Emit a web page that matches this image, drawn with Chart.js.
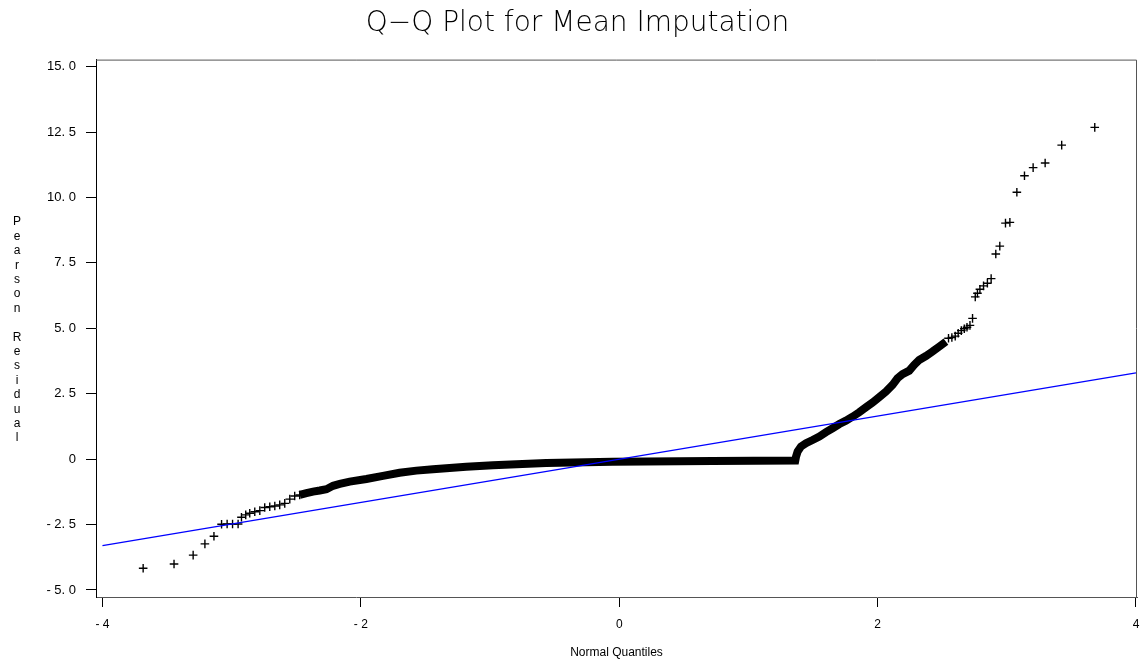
<!DOCTYPE html>
<html lang="en">
<head>
<meta charset="utf-8" />
<title>Q-Q Plot for Mean Imputation</title>
<script src="https://cdn.jsdelivr.net/npm/chart.js"></script>
<style>
  html, body { margin: 0; padding: 0; background: #fff; }
</style>
</head>
<body>
<canvas id="qq" width="1145" height="665"></canvas>
<script>
  // sparse crosses in both tails (normal quantile, pearson residual)
  const tailX = [-3.685, -3.446, -3.298, -3.207, -3.137, -3.078, -3.035, -2.993, -2.950, -2.924, -2.891,
                 -2.860, -2.821, -2.782, -2.744, -2.705, -2.666, -2.628, -2.589, -2.550, -2.512, -2.473,
                 2.549, 2.575, 2.601, 2.624, 2.648, 2.671, 2.692, 2.715, 2.735, 2.756, 2.773, 2.792,
                 2.820, 2.850, 2.879, 2.915, 2.946, 2.990, 3.024, 3.078, 3.137, 3.204, 3.297, 3.425, 3.681];
  const tailY = [-4.17, -4.01, -3.67, -3.24, -2.95, -2.49, -2.48, -2.48, -2.48, -2.22, -2.13,
                 -2.07, -2.01, -1.97, -1.85, -1.82, -1.79, -1.75, -1.69, -1.53, -1.41, -1.37,
                 4.62, 4.65, 4.70, 4.81, 4.91, 4.98, 5.04, 5.11, 5.38, 6.20, 6.34, 6.49,
                 6.62, 6.72, 6.90, 7.84, 8.14, 9.02, 9.05, 10.20, 10.83, 11.14, 11.32, 12.00, 12.68];

  // the dense middle where the crosses merge into a solid band
  const bandX = [-2.473, -2.421, -2.370, -2.318, -2.266, -2.215, -2.163, -2.086, -1.957, -1.829, -1.700,
                 -1.570, -1.442, -1.313, -1.184, -0.978, -0.565, -0.052, 0.721, 1.363, 1.369, 1.381,
                 1.407, 1.446, 1.497, 1.549, 1.601, 1.652, 1.704, 1.755, 1.806, 1.858, 1.910, 1.961,
                 2.013, 2.065, 2.116, 2.154, 2.193, 2.245, 2.283, 2.322, 2.374, 2.425, 2.477, 2.529];
  const bandY = [-1.37, -1.30, -1.24, -1.20, -1.15, -1.02, -0.95, -0.86, -0.76, -0.64, -0.52,
                 -0.44, -0.39, -0.34, -0.29, -0.23, -0.15, -0.10, -0.07, -0.05, 0.10, 0.29,
                 0.48, 0.61, 0.73, 0.86, 1.03, 1.18, 1.34, 1.47, 1.62, 1.79, 1.98, 2.16,
                 2.37, 2.58, 2.84, 3.09, 3.25, 3.38, 3.60, 3.79, 3.94, 4.11, 4.30, 4.49];

  // reference line
  const refX = [-4, 4];
  const refY = [-3.31, 3.30];

  const xTicks = [-4, -2, 0, 2, 4];
  const xTickLabels = ['- 4', '- 2', '0', '2', '4'];
  const yTicks = [-5, -2.5, 0, 2.5, 5, 7.5, 10, 12.5, 15];
  const yTickLabels = ['- 5. 0', '- 2. 5', '0', '2. 5', '5. 0', '7. 5', '10. 0', '12. 5', '15. 0'];

  const titleText = 'Q\u2212Q Plot for Mean Imputation';
  const xTitle = 'Normal Quantiles';
  const yTitle = 'Pearson Residual';

  const FONT = "'Liberation Sans', Arial, sans-serif";
  const zip = (xs, ys) => xs.map((x, i) => ({ x: x, y: ys[i] }));

  // box round the plot + the stacked letters of the y title
  const framePlugin = {
    id: 'frame',
    afterDraw(chart) {
      const ctx = chart.ctx, a = chart.chartArea;
      ctx.save();
      ctx.lineWidth = 1;
      ctx.strokeStyle = '#555';
      ctx.beginPath();
      ctx.moveTo(a.left, a.top + 0.5);
      ctx.lineTo(a.right - 0.5, a.top + 0.5);
      ctx.lineTo(a.right - 0.5, a.bottom);
      ctx.stroke();
      ctx.fillStyle = '#000';
      ctx.font = '12px ' + FONT;
      ctx.textAlign = 'center';
      ctx.textBaseline = 'middle';
      for (let i = 0; i < yTitle.length; i++) {
        ctx.fillText(yTitle[i], 17, 222 + i * 14.4);
      }
      ctx.restore();
    }
  };

  new Chart(document.getElementById('qq'), {
    type: 'scatter',
    data: {
      datasets: [
        {
          label: 'reference',
          data: zip(refX, refY),
          showLine: true,
          borderColor: '#0000ff',
          borderWidth: 1.3,
          pointRadius: 0
        },
        {
          label: 'tails',
          data: zip(tailX, tailY),
          pointStyle: 'cross',
          pointRadius: 4.3,
          borderColor: '#000',
          pointBorderWidth: 1.4
        },
        {
          label: 'band',
          data: zip(bandX, bandY),
          showLine: true,
          borderColor: '#000',
          borderWidth: 8,
          pointRadius: 0
        }
      ]
    },
    options: {
      responsive: false,
      animation: false,
      devicePixelRatio: 1,
      layout: { padding: { left: 18, right: 8, top: 0, bottom: 0 } },
      plugins: {
        legend: { display: false },
        tooltip: { enabled: false },
        title: {
          display: true,
          text: titleText,
          color: '#000',
          font: { family: "'DejaVu Sans', " + FONT, size: 28, weight: 200 },
          padding: { top: 7, bottom: 19 }
        }
      },
      scales: {
        x: {
          type: 'linear',
          min: -4.05,
          max: 4.008,
          afterBuildTicks: s => { s.ticks = xTicks.map(v => ({ value: v })); },
          afterFit: s => { s.height = 68; s.paddingLeft = 0; s.paddingRight = 0; },
          ticks: {
            color: '#000',
            font: { family: FONT, size: 12 },
            padding: 10,
            maxRotation: 0,
            callback: (v, i) => xTickLabels[i]
          },
          grid: { drawOnChartArea: false, drawTicks: true, tickLength: 10, color: '#000' },
          border: { display: true, color: '#555' },
          title: {
            display: true,
            text: xTitle,
            color: '#000',
            font: { family: FONT, size: 12 },
            padding: { top: 0, bottom: 5 }
          }
        },
        y: {
          type: 'linear',
          min: -5.27,
          max: 15.27,
          afterBuildTicks: s => { s.ticks = yTicks.map(v => ({ value: v })); },
          afterFit: s => { s.width = 78; },
          ticks: {
            color: '#000',
            font: { family: FONT, size: 13 },
            padding: 10,
            callback: (v, i) => yTickLabels[i]
          },
          grid: { drawOnChartArea: false, drawTicks: true, tickLength: 10, color: '#000' },
          border: { display: true, color: '#000' }
        }
      }
    },
    plugins: [framePlugin]
  });
</script>
</body>
</html>
